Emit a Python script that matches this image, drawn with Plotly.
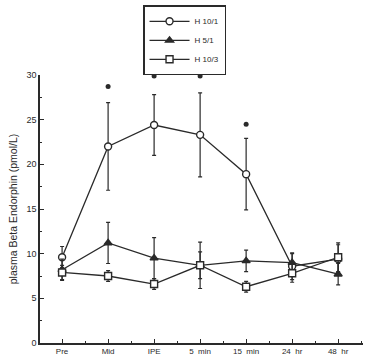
import plotly.graph_objects as go

categories = ["Pre", "Mid", "IPE", "5  min", "15  min", "24  hr", "48  hr"]
h10_1 = [9.6, 22.0, 24.4, 23.3, 18.9, 8.6, 9.4]
h10_1_err = [1.2, 4.9, 3.4, 4.7, 4.0, 1.5, 1.6]
h5_1 = [8.2, 11.2, 9.5, 8.7, 9.2, 9.0, 7.7]
h5_1_err = [1.2, 2.3, 2.3, 2.6, 1.2, 1.0, 1.2]
h10_3 = [7.9, 7.5, 6.6, 8.7, 6.3, 7.8, 9.6]
h10_3_err = [0.8, 0.6, 0.6, 1.5, 0.6, 1.0, 1.6]
sig_x = [1, 2, 3, 4]
sig_y = [28.7, 29.9, 29.9, 24.5]

x = list(range(len(categories)))
col = "#2a2a2a"

fig = go.Figure()
def add(name, y, e, sym, fill):
    fig.add_trace(go.Scatter(
        x=x, y=y, name=name, mode="lines+markers",
        line=dict(color=col, width=1.3),
        marker=dict(symbol=sym, size=7, color=fill, line=dict(color=col, width=1.4)),
        error_y=dict(type="data", array=e, color=col, thickness=1.2, width=2),
    ))

add("H 10/1", h10_1, h10_1_err, "circle", "white")
add("H 5/1", h5_1, h5_1_err, "triangle-up", col)
add("H 10/3", h10_3, h10_3_err, "square", "white")

fig.add_trace(go.Scatter(x=sig_x, y=sig_y, mode="markers", showlegend=False,
                         cliponaxis=False,
                         marker=dict(symbol="circle", size=5, color=col)))

fig.update_layout(
    width=368, height=358,
    margin=dict(l=40, r=5, t=75, b=15, autoexpand=False),
    paper_bgcolor="white", plot_bgcolor="white",
    font=dict(family="Liberation Sans", size=9, color=col),
    showlegend=True,
    legend=dict(x=0.319, y=1.26, xanchor="left", yanchor="top",
                bordercolor=col, borderwidth=1.5, bgcolor="white",
                font=dict(size=8), itemwidth=40, tracegroupgap=0),
)
fig.update_xaxes(
    range=[-0.48, 6.54], tickvals=x, ticktext=categories,
    showline=True, linecolor=col, linewidth=1.5, showgrid=False, zeroline=False,
    ticks="inside", ticklen=4, tickcolor=col, tickfont=dict(size=8),
    minor=dict(dtick=0.5, tick0=0.5, ticks="inside", ticklen=2, tickcolor=col),
)
fig.update_yaxes(
    range=[0, 30], tickvals=[0, 5, 10, 15, 20, 25, 30],
    showline=True, linecolor=col, linewidth=1.5, showgrid=False, zeroline=False,
    ticks="inside", ticklen=4, tickcolor=col,
    minor=dict(dtick=2.5, ticks="inside", ticklen=2, tickcolor=col),
    title=dict(text="plasma Beta Endorphin (pmol/L)", standoff=7, font=dict(size=10.5)),
)

fig.write_html("out.html", config={"displayModeBar": False},
               post_script="document.body.style.margin='0';document.body.style.overflow='hidden';")
